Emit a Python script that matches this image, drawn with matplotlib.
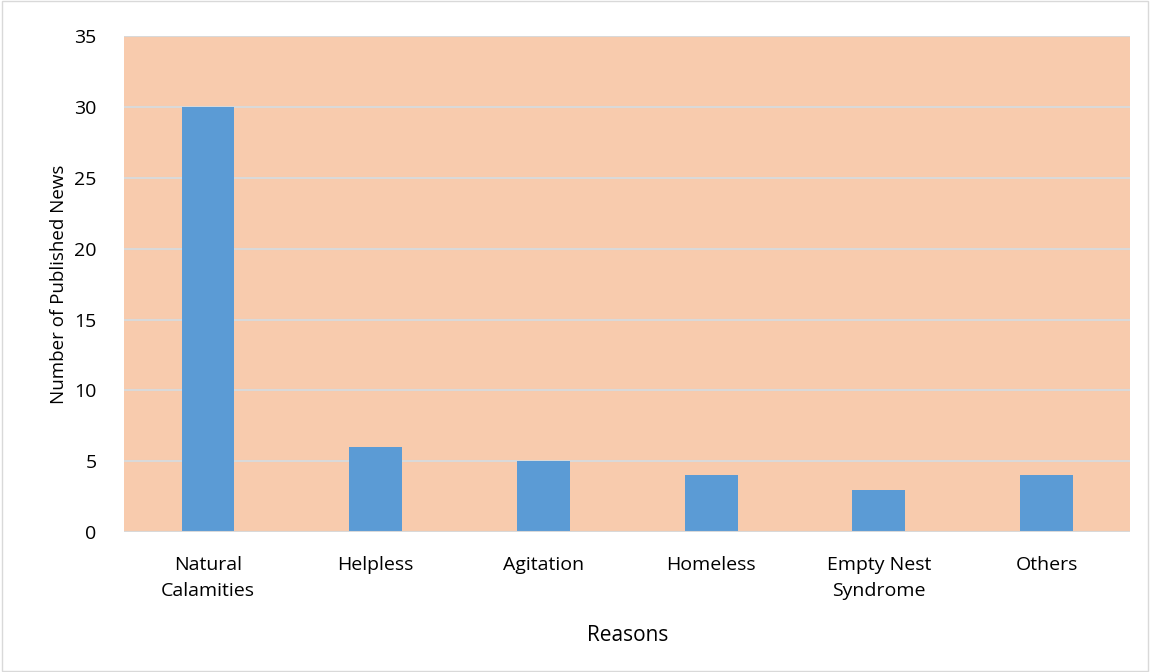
import matplotlib
matplotlib.use("Agg")
import matplotlib.pyplot as plt
from matplotlib.patches import Rectangle

reasons = ["Natural\nCalamities", "Helpless", "Agitation", "Homeless",
           "Empty Nest\nSyndrome", "Others"]
news_counts = [30, 6, 5, 4, 3, 4]
y_ticks = [0, 5, 10, 15, 20, 25, 30, 35]

plt.rcParams['font.family'] = ['Open Sans', 'DejaVu Sans']

fig = plt.figure(figsize=(11.5, 6.72), dpi=100)
ax = fig.add_axes([0.108, 0.2083, 0.875, 0.7377])
ax.set_facecolor('#F8CBAD')

x = range(len(reasons))
ax.bar(x, news_counts, width=0.315, color='#5B9BD5', zorder=3)

ax.set_ylim(0, 35)
ax.set_xlim(-0.5, len(reasons) - 0.5)
ax.set_yticks(y_ticks)
ax.set_xticks(list(x))
ax.set_xticklabels(reasons, fontsize=14, linespacing=1.6)
ax.tick_params(axis='y', labelsize=14, length=0, pad=20)
ax.tick_params(axis='x', length=0, pad=17)
ax.yaxis.grid(True, color='#D9D9D9', linewidth=1.5, zorder=1)
ax.set_axisbelow(True)
for s in ax.spines.values():
    s.set_visible(False)
ax.axhline(0, color='#D9D9D9', linewidth=1.5, zorder=4)

ax.set_xlabel("Reasons", fontsize=15, labelpad=18)
ax.set_ylabel("Number of Published News", fontsize=13.5, labelpad=4)

fig.patches.append(Rectangle((0.002, 0.002), 0.996, 0.996, transform=fig.transFigure,
                             fill=False, edgecolor='#D9D9D9', linewidth=1))

fig.savefig("out.png", dpi=100)
